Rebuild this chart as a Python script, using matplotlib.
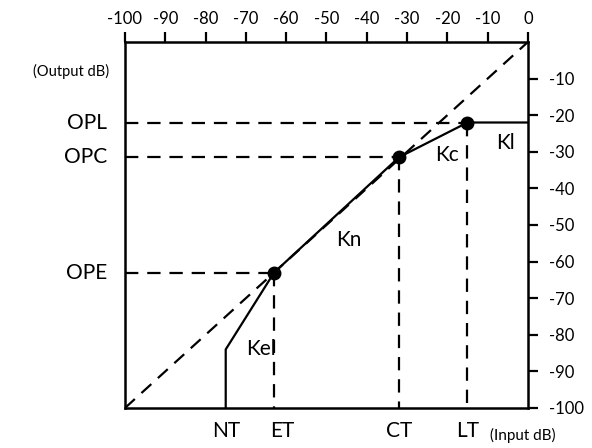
import matplotlib.pyplot as plt
import numpy as np

plt.rcParams['font.family'] = ['Lato', 'DejaVu Sans']

# compressor curve knee points (input dB, output dB)
curve_in = [-75, -75, -63, -32, -15, 0]
curve_out = [-100, -84, -63, -31.5, -22, -22]
# marked knee points
knee_in = [-63, -32, -15]
knee_out = [-63, -31.5, -22]
knee_ylabels = ['OPE', 'OPC', 'OPL']
xlabels = ['NT', 'ET', 'CT', 'LT']
xlabel_pos = [-75, -61, -32, -15]
ticks = np.arange(-100, 1, 10)

fig = plt.figure(figsize=(5.92, 4.48), dpi=100)
ax = fig.add_axes([0.2111, 0.0893, 0.6807, 0.8170])
ax.set_xlim(-100, 0)
ax.set_ylim(-100, 0)

dash = (0, (6, 4))
ax.plot([-100, 0], [-100, 0], color='black', lw=1.6, ls=dash)
ax.plot(curve_in, curve_out, color='black', lw=1.6, solid_joinstyle='miter')
ax.plot(knee_in, knee_out, 'o', color='black', ms=9)
for xi, yi in zip(knee_in, knee_out):
    ax.plot([-100, xi], [yi, yi], color='black', lw=1.6, ls=dash)
    ax.plot([xi, xi], [yi, -100], color='black', lw=1.6, ls=dash)

ax.xaxis.tick_top()
ax.yaxis.tick_right()
ax.set_xticks(ticks)
ax.set_xticklabels([str(t) for t in ticks])
ax.set_yticks(ticks[:-1])
ax.set_yticklabels([str(t) for t in ticks[:-1]])
ax.tick_params(axis='both', direction='out', length=7, width=1.6, labelsize=12)
ax.tick_params(axis='x', pad=4)
ax.tick_params(axis='y', pad=8)
for s in ax.spines.values():
    s.set_linewidth(1.8)

for lab, yi in zip(knee_ylabels, knee_out):
    ax.text(-104.5, yi, lab, ha='right', va='center', fontsize=15, clip_on=False)
for lab, xi in zip(xlabels, xlabel_pos):
    ax.text(xi, -103.5, lab, ha='center', va='top', fontsize=15, clip_on=False)

ax.text(-104, -8, '(Output dB)', ha='right', va='center', fontsize=10.5, clip_on=False)
ax.text(-9.5, -105.5, '(Input dB)', ha='left', va='top', fontsize=11, clip_on=False)

ax.text(-62.5, -84, 'Kel', ha='right', va='center', fontsize=15)
ax.text(-44.5, -54, 'Kn', ha='center', va='center', fontsize=15)
ax.text(-20, -31, 'Kc', ha='center', va='center', fontsize=15)
ax.text(-5.5, -27.5, 'Kl', ha='center', va='center', fontsize=15)

fig.savefig('out.png', dpi=100)
